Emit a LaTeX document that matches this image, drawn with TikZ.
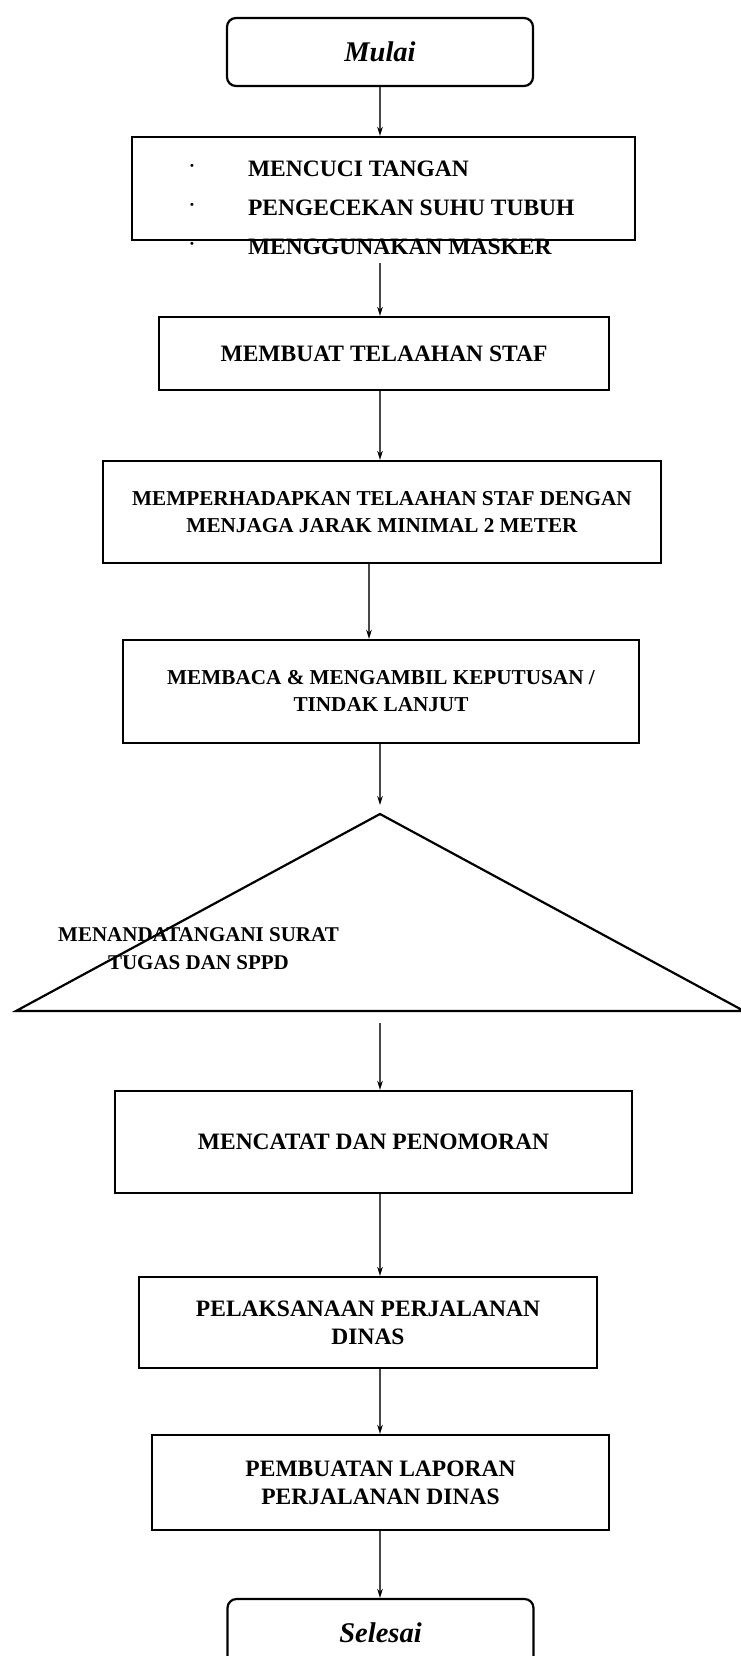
\documentclass[tikz,border=0pt]{standalone}
\usepackage{fontspec}
\setmainfont{Liberation Serif}
\usetikzlibrary{arrows.meta, positioning, calc}

\begin{document}
\begin{tikzpicture}[
    x=1pt,
    y=-1pt,
    >={Stealth[length=9pt,width=5.5pt,black]},
    box/.style={
        draw,
        line width=2.2pt,
        inner sep=0pt,
        align=center,
        font=\fontsize{23.5}{28}\selectfont\bfseries
    },
    smallbox/.style={
        box,
        font=\fontsize{21.2}{27}\selectfont\bfseries
    },
    terminal/.style={
        draw,
        line width=2.2pt,
        rounded corners=9pt,
        minimum width=306pt,
        minimum height=68pt,
        font=\fontsize{28.5}{32}\selectfont\bfseries\itshape
    },
    arr/.style={->, line width=1.9pt, draw=black!72}
]

\useasboundingbox (0,0) rectangle (741,1656);
\clip (0,0) rectangle (741,1656);

% Start
\node[terminal] (mulai) at (380,52) {Mulai};

% Hygiene list
\node[box, minimum width=503pt, minimum height=103pt] (cuci) at (383.5,188.5) {};
\node[anchor=west, inner sep=0pt, font=\fontsize{23.5}{28}\selectfont\bfseries] (cucilist) at (190,210) {%
\begin{tabular}{@{}c@{\hspace{54pt}}l@{}}
\raisebox{7pt}{\fontsize{11}{11}\selectfont\textbullet} & MENCUCI TANGAN \\[11pt]
\raisebox{7pt}{\fontsize{11}{11}\selectfont\textbullet} & PENGECEKAN SUHU TUBUH \\[11pt]
\raisebox{7pt}{\fontsize{11}{11}\selectfont\textbullet} & MENGGUNAKAN MASKER
\end{tabular}};

% Process boxes
\node[box, minimum width=450pt, minimum height=73pt] (telaah) at (384,353.5) {MEMBUAT TELAAHAN STAF};

\node[smallbox, minimum width=558pt, minimum height=102pt] (hadap) at (382,512)
    {MEMPERHADAPKAN TELAAHAN STAF DENGAN\\MENJAGA JARAK MINIMAL 2 METER};

\node[smallbox, minimum width=516pt, minimum height=103pt] (baca) at (381,691.5)
    {MEMBACA \& MENGAMBIL KEPUTUSAN /\\TINDAK LANJUT};

% Signing (triangle)
\coordinate (ttdtop) at (380,814);
\coordinate (ttdleft) at (16,1011);
\coordinate (ttdright) at (744,1011);
\draw[line width=2.2pt] (ttdtop) -- (ttdright) -- (ttdleft) -- cycle;
\node[align=center, inner sep=0pt, font=\fontsize{21}{28}\selectfont\bfseries] (ttd) at (198.5,949)
    {MENANDATANGANI SURAT\\TUGAS DAN SPPD};

\node[box, minimum width=517pt, minimum height=102pt] (catat) at (373.5,1142) {MENCATAT DAN PENOMORAN};

\node[box, minimum width=458pt, minimum height=91pt] (laksana) at (368,1322.5)
    {PELAKSANAAN PERJALANAN\\DINAS};

\node[box, minimum width=457pt, minimum height=95pt] (lapor) at (380.5,1482.5)
    {PEMBUATAN LAPORAN\\PERJALANAN DINAS};

% End
\node[terminal] (selesai) at (380.5,1633) {Selesai};

% Connectors
\coordinate (spine) at (380,0);
\coordinate (spineb) at (369,0);
\coordinate (ttdin) at (380,805);
\coordinate (ttdout) at (380,1023);

\draw[arr] (mulai.south -| spine) -- (cuci.north -| spine);
\draw[arr] (cucilist.south -| spine) -- (telaah.north -| spine);
\draw[arr] (telaah.south -| spine) -- (hadap.north -| spine);
\draw[arr] (hadap.south -| spineb) -- (baca.north -| spineb);
\draw[arr] (baca.south -| spine) -- (ttdin);
\draw[arr] (ttdout) -- (catat.north -| spine);
\draw[arr] (catat.south -| spine) -- (laksana.north -| spine);
\draw[arr] (laksana.south -| spine) -- (lapor.north -| spine);
\draw[arr] (lapor.south -| spine) -- (selesai.north -| spine);

\end{tikzpicture}
\end{document}
